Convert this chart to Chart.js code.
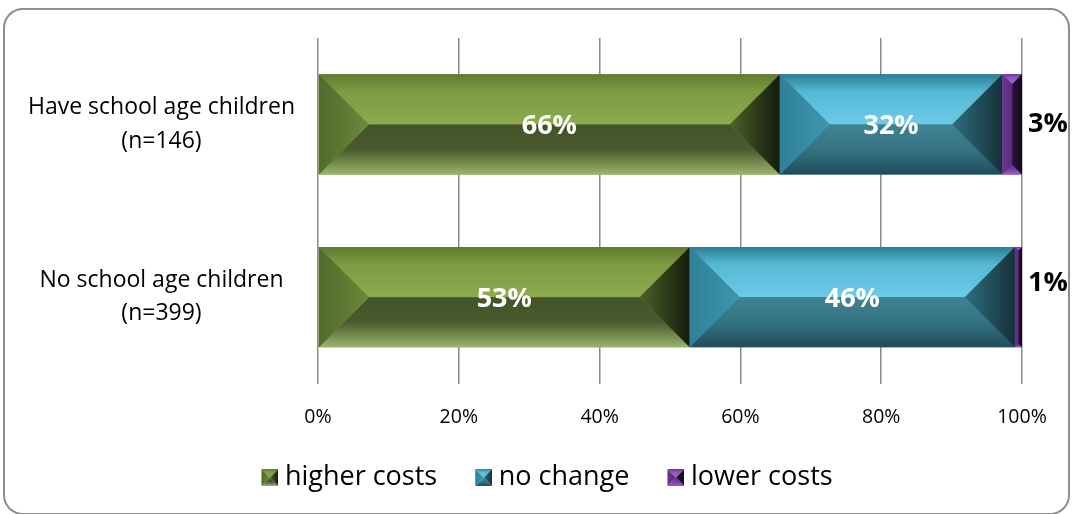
<!DOCTYPE html>
<html>
<head>
<meta charset="utf-8">
<script src="https://cdn.jsdelivr.net/npm/chart.js@4"></script>
<style>
  html, body { margin: 0; padding: 0; background: #fff; }
  #wrap { position: relative; width: 1072px; height: 514px; overflow: hidden; }
  #frame { position: absolute; left: 3px; top: 8px; width: 1063px; height: 503px;
           border: 2px solid #8e8e8e; border-radius: 20px; }
  canvas { position: absolute; left: 0; top: 0; }
</style>
</head>
<body>
<div id="wrap">
  <div id="frame"></div>
  <canvas id="chart" width="1072" height="514"></canvas>
</div>
<script>
// data
const categories = [["Have school age children", "(n=146)"], ["No school age children", "(n=399)"]];
const seriesNames = ["higher costs", "no change", "lower costs"];
const higherCosts = [65.6, 52.8];
const noChange = [31.6, 46.2];
const lowerCosts = [2.8, 1.0];
const tickValues = [0, 20, 40, 60, 80, 100];

// bevel colours per series: top facet, bottom facet, left facet, right facet
const bevel = [
  { base: "#77933c", top: ["#5f7b31", "#7d9c43", "#8cab4d"], bottom: ["#43532a", "#4a5b2d", "#9ab46c"],
    left: ["#4f6a2b", "#6a8a3b"], right: ["#4c6229", "#151b0b"] },
  { base: "#31859c", top: ["#2c7d94", "#55b9d5", "#6dcbe6"], bottom: ["#3f8393", "#357383", "#1f4c59"],
    left: ["#2f8099", "#3e97ae"], right: ["#2e6e7f", "#15303a"] },
  { base: "#7030a0", top: ["#6a2f96", "#9255c2", "#9f66cc"], bottom: ["#5a2880", "#7a40a8", "#9a5fc7"],
    left: ["#6b3590", "#5a2c7a"], right: ["#2a1238", "#140a1c"] }
];

function drawBevel(ctx, l, t, r, b, c) {
  const d = Math.min((r - l) / 2, (b - t) / 2);
  if (d <= 0) return;
  const il = l + d, ir = r - d, it = t + d, ib = b - d;
  ctx.save();
  // top facet
  let g = ctx.createLinearGradient(0, t, 0, it);
  g.addColorStop(0, c.top[0]); g.addColorStop(0.35, c.top[1]); g.addColorStop(1, c.top[2]);
  ctx.fillStyle = g;
  ctx.beginPath(); ctx.moveTo(l, t); ctx.lineTo(r, t); ctx.lineTo(ir, it); ctx.lineTo(il, it); ctx.closePath(); ctx.fill();
  if (ib > it) { ctx.fillStyle = c.base; ctx.fillRect(il, it, ir - il, ib - it); }
  // bottom facet
  g = ctx.createLinearGradient(0, ib, 0, b);
  g.addColorStop(0, c.bottom[0]); g.addColorStop(0.5, c.bottom[1]); g.addColorStop(1, c.bottom[2]);
  ctx.fillStyle = g;
  ctx.beginPath(); ctx.moveTo(il, ib); ctx.lineTo(ir, ib); ctx.lineTo(r, b); ctx.lineTo(l, b); ctx.closePath(); ctx.fill();
  // left facet
  g = ctx.createLinearGradient(l, 0, il, 0);
  g.addColorStop(0, c.left[0]); g.addColorStop(1, c.left[1]);
  ctx.fillStyle = g;
  ctx.beginPath(); ctx.moveTo(l, t); ctx.lineTo(il, it); ctx.lineTo(il, ib); ctx.lineTo(l, b); ctx.closePath(); ctx.fill();
  // right facet
  g = ctx.createLinearGradient(ir, 0, r, 0);
  g.addColorStop(0, c.right[0]); g.addColorStop(1, c.right[1]);
  ctx.fillStyle = g;
  ctx.beginPath(); ctx.moveTo(r, t); ctx.lineTo(ir, it); ctx.lineTo(ir, ib); ctx.lineTo(r, b); ctx.closePath(); ctx.fill();
  ctx.restore();
}

// legend icons: bevel square drawn on the right part of a wider transparent canvas
const icons = bevel.map(c => {
  const cv = document.createElement("canvas");
  cv.width = 52; cv.height = 17;
  drawBevel(cv.getContext("2d"), 35, 0, 52, 17, c);
  return cv;
});

const bevelPlugin = {
  id: "bevelBars",
  afterDatasetsDraw(chart) {
    const ctx = chart.ctx;
    chart.data.datasets.forEach((ds, i) => {
      chart.getDatasetMeta(i).data.forEach(el => {
        const p = el.getProps(["x", "y", "base", "height"], true);
        drawBevel(ctx, Math.min(p.base, p.x), p.y - p.height / 2, Math.max(p.base, p.x), p.y + p.height / 2, bevel[i]);
      });
    });
  }
};

const outsideShift = [0, -14]; // y shift of the small outside labels
const labelPlugin = {
  id: "valueLabels",
  afterDatasetsDraw(chart) {
    const ctx = chart.ctx;
    ctx.save();
    ctx.textBaseline = "middle";
    ctx.textAlign = "center";
    ctx.font = "bold 27px 'Open Sans'";
    chart.data.datasets.forEach((ds, i) => {
      chart.getDatasetMeta(i).data.forEach((el, j) => {
        const p = el.getProps(["x", "y", "base"], true);
        const txt = Math.round(ds.data[j]) + "%";
        if (Math.abs(p.x - p.base) > 60) {
          ctx.fillStyle = "#ffffff";
          ctx.fillText(txt, (p.x + p.base) / 2, p.y + 2);
        } else {
          ctx.fillStyle = "#000000";
          ctx.fillText(txt, p.x + 26, p.y + outsideShift[j]);
        }
      });
    });
    ctx.restore();
  }
};

new Chart(document.getElementById("chart"), {
  type: "bar",
  data: {
    labels: categories,
    datasets: [
      { label: seriesNames[0], data: higherCosts, backgroundColor: bevel[0].base },
      { label: seriesNames[1], data: noChange, backgroundColor: bevel[1].base },
      { label: seriesNames[2], data: lowerCosts, backgroundColor: bevel[2].base }
    ]
  },
  options: {
    indexAxis: "y",
    responsive: false,
    animation: false,
    layout: { padding: { top: 38, left: 4, right: 10, bottom: 13 } },
    datasets: { bar: { categoryPercentage: 1, barPercentage: 0.58 } },
    scales: {
      x: {
        stacked: true, min: 0, max: 100,
        afterBuildTicks: s => { s.ticks = tickValues.map(v => ({ value: v })); },
        afterFit: s => { s.height = 70.5; s.paddingLeft = 0; s.paddingRight = 50; },
        grid: { color: "#8a8a8a", lineWidth: 1.5, drawTicks: false },
        border: { display: false },
        ticks: { padding: 22, color: "#000", font: { family: "'Open Sans'", size: 19.5 }, callback: v => v + "%" }
      },
      y: {
        stacked: true,
        afterFit: s => { s.width = 314; s.paddingTop = 0; s.paddingBottom = 0; },
        grid: { display: false, drawTicks: false },
        border: { display: false },
        ticks: { padding: 23, crossAlign: "center", color: "#000", font: { family: "'Open Sans'", size: 23, lineHeight: 1.45 } }
      }
    },
    plugins: {
      tooltip: { enabled: false },
      legend: {
        position: "bottom",
        labels: {
          usePointStyle: true,
          pointStyleWidth: 38,
          padding: 10,
          color: "#000",
          font: { family: "'Open Sans'", size: 27 },
          generateLabels: chart => Chart.defaults.plugins.legend.labels.generateLabels(chart)
            .map((it, i) => Object.assign(it, { pointStyle: icons[i] }))
        }
      }
    }
  },
  plugins: [bevelPlugin, labelPlugin]
});
</script>
</body>
</html>
